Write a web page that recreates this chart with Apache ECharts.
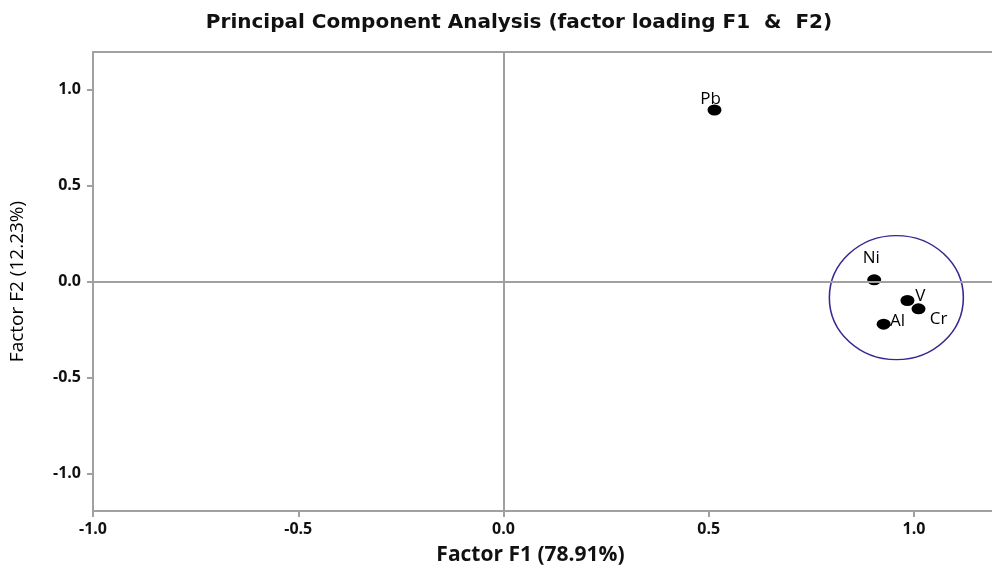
<!DOCTYPE html>
<html><head><meta charset="utf-8">
<script src="https://cdn.jsdelivr.net/npm/echarts@6/dist/echarts.min.js"></script>
<style>html,body{margin:0;padding:0;background:#fff}#c{width:992px;height:573px}</style>
</head><body><div id="c"></div>
<script>
const variables = ['Pb','Ni','V','Cr','Al'];
const f1 = [0.514, 0.903, 0.984, 1.011, 0.926];
const f2 = [0.893, 0.009, -0.099, -0.142, -0.222];
const xTicks = [-1.0, -0.5, 0.0, 0.5, 1.0];
const yTicks = [-1.0, -0.5, 0.0, 0.5, 1.0];
const clusterCenter = [0.957, -0.084];

const FONT = '"Open Sans", "Noto Sans", sans-serif';
const labelOffset = {Pb:[-4,-11], Ni:[-3,-22], V:[13,-4], Cr:[20,10], Al:[14,-3]};
const chart = echarts.init(document.getElementById('c'));
const pts = variables.map((v,i)=>({
  value:[f1[i], f2[i]], name:v,
  label:{show:true, formatter:v, position:'inside', offset:labelOffset[v],
    color:'#000', fontSize:17, fontFamily:FONT}
}));
const axisCol = '#a0a0a0';
chart.setOption({
  animation:false,
  title:{text:'Principal Component Analysis (factor loading F1  &  F2)', left:514, textAlign:'center', top:8,
    textStyle:{fontFamily:'"DejaVu Sans", sans-serif', fontWeight:'bold', fontSize:20, color:'#111'}},
  grid:{left:93, right:0, top:52, bottom:62},
  xAxis:[{type:'value', min:-1.0, max:1.19, interval:0.5, position:'bottom',
    name:'Factor F1 (78.91%)', nameLocation:'middle', nameGap:34,
    nameTextStyle:{fontFamily:FONT, fontWeight:'bold', fontSize:21, color:'#111', padding:[0,24,0,0]},
    axisLine:{show:true, onZero:false, lineStyle:{color:axisCol, width:2}},
    axisTick:{show:true, length:6, lineStyle:{color:axisCol, width:2}, customValues:xTicks},
    splitLine:{show:false},
    axisLabel:{fontFamily:FONT, fontWeight:'bold', fontSize:16, color:'#111', margin:10,
      customValues:xTicks, formatter:v=>v.toFixed(1)}},
   {type:'value', min:-1.0, max:1.19, position:'top',
    axisLine:{show:true, onZero:false, lineStyle:{color:axisCol, width:2}},
    axisTick:{show:false}, axisLabel:{show:false}, splitLine:{show:false}}],
  yAxis:{type:'value', min:-1.195, max:1.195, interval:0.5,
    name:'Factor F2 (12.23%)', nameLocation:'middle', nameGap:66,
    nameTextStyle:{fontFamily:FONT, fontWeight:'normal', fontSize:19, color:'#000'},
    axisLine:{show:true, onZero:false, lineStyle:{color:axisCol, width:2}},
    axisTick:{show:true, length:6, lineStyle:{color:axisCol, width:2}, customValues:yTicks},
    splitLine:{show:false},
    axisLabel:{fontFamily:FONT, fontWeight:'bold', fontSize:16, color:'#111', margin:12,
      customValues:yTicks, formatter:v=>v.toFixed(1)}},
  series:[
    {type:'scatter', data:[clusterCenter], symbol:'circle', symbolSize:[134,124], silent:true,
      itemStyle:{color:'rgba(0,0,0,0)', borderColor:'#3d2590', borderWidth:1.5, opacity:1}, z:1},
    {type:'scatter', data:pts, symbol:'circle', symbolSize:[14,11], itemStyle:{color:'#000', opacity:1}, z:3,
      markLine:{silent:true, symbol:'none', label:{show:false},
        lineStyle:{color:axisCol, width:2, type:'solid'},
        data:[{xAxis:0},{yAxis:0}]}}
  ]
});
</script></body></html>
